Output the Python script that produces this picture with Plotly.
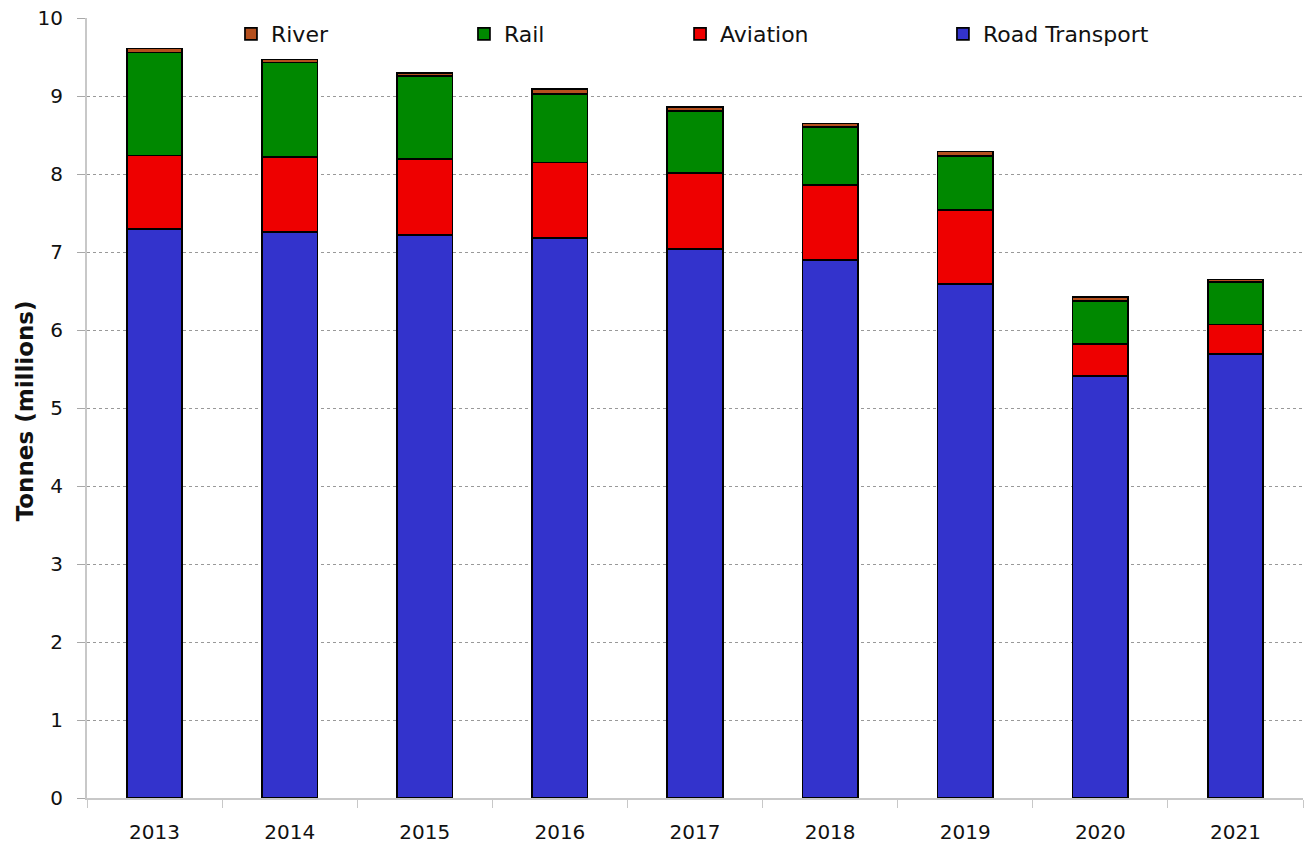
import plotly.graph_objects as go

years = ["2013", "2014", "2015", "2016", "2017", "2018", "2019", "2020", "2021"]
road = [7.30, 7.26, 7.22, 7.18, 7.04, 6.90, 6.59, 5.41, 5.69]
aviation = [0.94, 0.96, 0.97, 0.97, 0.97, 0.96, 0.95, 0.41, 0.38]
rail = [1.32, 1.21, 1.07, 0.88, 0.80, 0.74, 0.69, 0.55, 0.55]
river = [0.05, 0.04, 0.04, 0.06, 0.05, 0.05, 0.06, 0.05, 0.03]

FONT = "DejaVu Sans"

# series: name, values, colour, legend slot
series = [
    ("Road Transport", road, "#3333cc", "legend4"),
    ("Aviation", aviation, "#ee0000", "legend3"),
    ("Rail", rail, "#008800", "legend2"),
    ("River", river, "#b5501e", "legend"),
]

fig = go.Figure()
for name, vals, col, leg in series:
    fig.add_trace(go.Bar(
        x=years, y=vals, name=name, legend=leg, showlegend=True,
        marker=dict(color=col, line=dict(color="black", width=1.7)),
    ))

legend_x = {"legend": 0.1184, "legend2": 0.3100, "legend3": 0.4877, "legend4": 0.7039}
legends = {}
for key, xpos in legend_x.items():
    legends[key] = dict(
        x=xpos, y=0.9795, xanchor="left", yanchor="middle",
        orientation="h", bgcolor="rgba(0,0,0,0)",
        font=dict(family=FONT, size=22, color="#111111"),
    )

fig.update_layout(
    width=1307, height=846,
    margin=dict(l=87, r=4, t=18, b=48),
    barmode="stack", bargap=0.59,
    plot_bgcolor="white", paper_bgcolor="white",
    font=dict(family=FONT, size=20, color="#111111"),
    showlegend=True,
    **legends,
)

# y axis title as a rotated annotation so it sits where the original does
fig.add_annotation(
    text="<b>Tonnes (millions)</b>", textangle=-90,
    xref="paper", yref="paper", x=-0.051, y=0.497,
    xanchor="center", yanchor="middle", showarrow=False,
    font=dict(family=FONT, size=23, color="#111111"),
)

fig.update_xaxes(
    automargin=False,
    showline=True, linecolor="#c8c8c8", linewidth=2,
    ticks="outside", tickson="boundaries", ticklen=8, tickcolor="#c8c8c8",
    ticklabelstandoff=15, showgrid=False,
)
fig.update_yaxes(
    automargin=False,
    range=[0, 10.002], dtick=1, ticklabeloverflow="allow",
    showline=True, linecolor="#c8c8c8", linewidth=2,
    ticks="outside", ticklen=8, tickcolor="#a8a8a8", ticklabelstandoff=10,
    showgrid=True, gridcolor="#999999", gridwidth=1, griddash="dot",
    zeroline=False,
)

# drop the browser's default body margin so the figure fills the window
fig.write_html(
    "out.html",
    config={"displayModeBar": False},
    post_script="document.body.style.margin = '0';",
)
